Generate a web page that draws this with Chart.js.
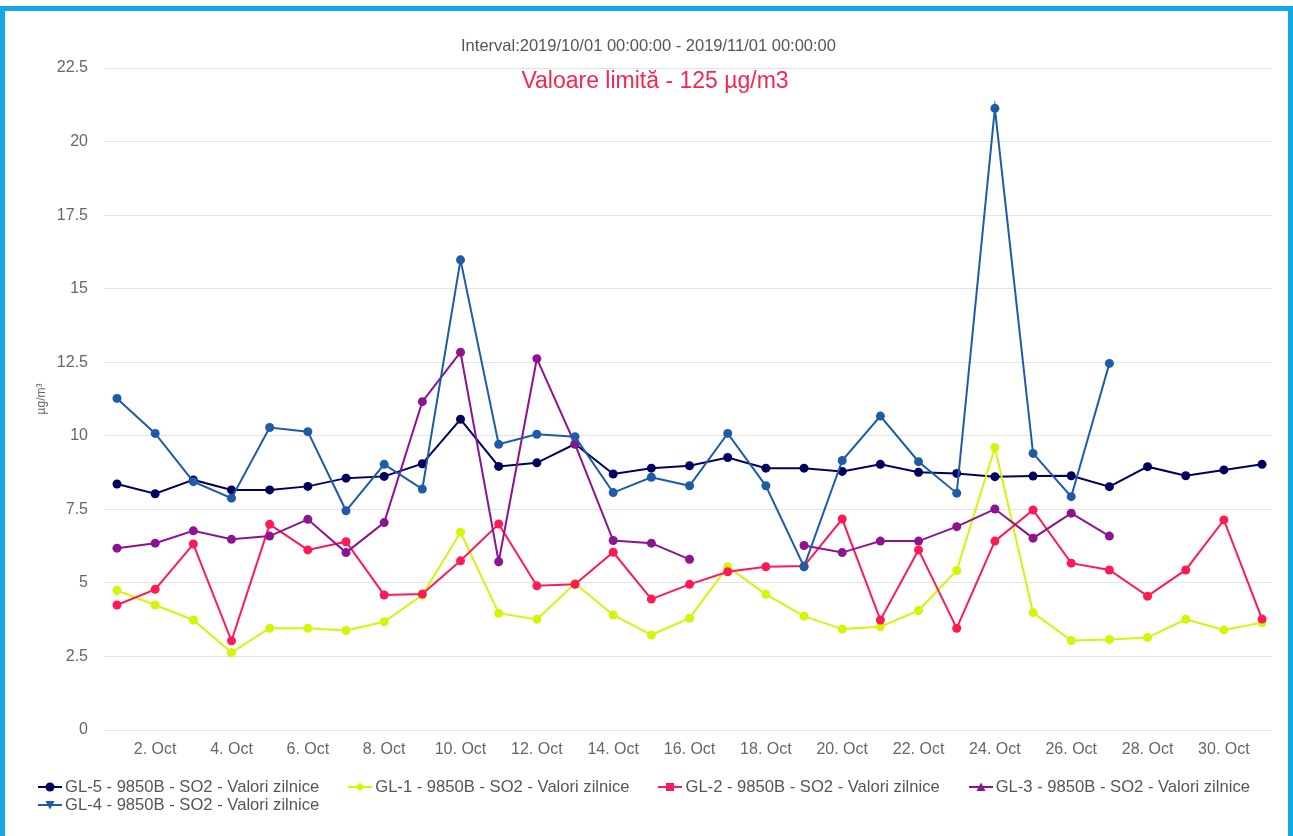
<!DOCTYPE html>
<html>
<head>
<meta charset="utf-8">
<script src="https://cdn.jsdelivr.net/npm/chart.js@4.4.0/dist/chart.umd.min.js"></script>
<style>
  html, body { margin: 0; padding: 0; }
  body { width: 1293px; height: 836px; position: relative; overflow: hidden; background: #fff;
         font-family: "Liberation Sans", Arial, sans-serif; }
  #marco { position: absolute; left: 0; top: 6px; width: 1293px; height: 900px; box-sizing: border-box;
           border: 5px solid #14a9e6; }
  #grafico { position: absolute; left: 0; top: 0; }
  #intervalo { position: absolute; left: 0; width: 1297px; top: 36px; text-align: center;
               font-size: 16.5px; color: #555; }
  #limite { position: absolute; left: 0; width: 1310px; top: 67px; text-align: center;
            font-size: 23px; color: #f7264f; }
  #leyenda { position: absolute; left: 38px; top: 778px; width: 1245px; display: flex; flex-wrap: wrap; }
  .item { display: flex; align-items: center; height: 18px; margin-right: 29px; }
  .item span { margin-left: 3px; font-size: 16.6px; color: #555; white-space: nowrap; }
</style>
</head>
<body>
<div id="marco"></div>
<canvas id="grafico" width="1293" height="836"></canvas>
<div id="intervalo">Interval:2019/10/01 00:00:00 - 2019/11/01 00:00:00</div>
<div id="limite">Valoare limită - 125 µg/m3</div>
<div id="leyenda"></div>
<script>
// Zilele lunii (octombrie 2019)
const zile = [1, 2, 3, 4, 5, 6, 7, 8, 9, 10, 11, 12, 13, 14, 15, 16,
              17, 18, 19, 20, 21, 22, 23, 24, 25, 26, 27, 28, 29, 30, 31];
const zileEticheta = [2, 4, 6, 8, 10, 12, 14, 16, 18, 20, 22, 24, 26, 28, 30];

// Valori SO2 (µg/m³)
const gl5 = [8.36, 8.03, 8.5, 8.16, 8.16, 8.28, 8.56, 8.62, 9.05, 10.56, 8.96, 9.08, 9.72, 8.7, 8.9, 8.98,
             9.26, 8.9, 8.9, 8.79, 9.03, 8.76, 8.72, 8.61, 8.63, 8.64, 8.27, 8.95, 8.64, 8.84, 9.03];
const gl1 = [4.74, 4.25, 3.74, 2.63, 3.46, 3.46, 3.38, 3.68, 4.59, 6.72, 3.97, 3.76, 4.98, 3.91, 3.23, 3.8,
             5.55, 4.61, 3.87, 3.43, 3.51, 4.06, 5.42, 9.6, 3.99, 3.04, 3.08, 3.14, 3.76, 3.4, 3.65];
const gl2 = [4.25, 4.78, 6.32, 3.03, 6.99, 6.12, 6.4, 4.59, 4.62, 5.75, 7.0, 4.9, 4.95, 6.04, 4.45, 4.95,
             5.38, 5.55, 5.57, 7.17, 3.74, 6.12, 3.46, 6.42, 7.48, 5.67, 5.44, 4.55, 5.44, 7.14, 3.77];
const gl3 = [6.18, 6.35, 6.77, 6.48, 6.59, 7.16, 6.03, 7.05, 11.16, 12.84, 5.72, 12.62, 9.72, 6.44, 6.35, 5.8,
             null, null, 6.27, 6.03, 6.42, 6.42, 6.91, 7.51, 6.52, 7.37, 6.59, null, null, null, null];
const gl4 = [11.27, 10.08, 8.44, 7.88, 10.28, 10.14, 7.45, 9.03, 8.19, 15.98, 9.71, 10.05, 9.97, 8.07, 8.59, 8.3,
             10.08, 8.3, 5.55, 9.16, 10.67, 9.12, 8.05, 21.13, 9.4, 7.93, 12.46, null, null, null, null];

const serii = [
  { nume: 'GL-5 - 9850B - SO2 - Valori zilnice', valori: gl5, culoare: '#00005e', simbol: 'cerc' },
  { nume: 'GL-1 - 9850B - SO2 - Valori zilnice', valori: gl1, culoare: '#d4f50a', simbol: 'romb' },
  { nume: 'GL-2 - 9850B - SO2 - Valori zilnice', valori: gl2, culoare: '#ff1a55', simbol: 'patrat' },
  { nume: 'GL-3 - 9850B - SO2 - Valori zilnice', valori: gl3, culoare: '#8e1390', simbol: 'triunghi' },
  { nume: 'GL-4 - 9850B - SO2 - Valori zilnice', valori: gl4, culoare: '#1e5ba8', simbol: 'triunghiJos' }
];

const FONT = '"Liberation Sans", Arial, sans-serif';

// Legenda în HTML (linie + simbol)
function desenSimbol(serie) {
  const c = document.createElement('canvas');
  c.width = 24; c.height = 14;
  const g = c.getContext('2d');
  g.strokeStyle = serie.culoare;
  g.fillStyle = serie.culoare;
  g.lineWidth = 2;
  g.beginPath(); g.moveTo(0, 7); g.lineTo(24, 7); g.stroke();
  g.beginPath();
  if (serie.simbol === 'cerc') g.arc(12, 7, 4.5, 0, Math.PI * 2);
  else if (serie.simbol === 'romb') { g.moveTo(12, 2.5); g.lineTo(16.5, 7); g.lineTo(12, 11.5); g.lineTo(7.5, 7); }
  else if (serie.simbol === 'patrat') g.rect(8, 3, 8, 8);
  else if (serie.simbol === 'triunghi') { g.moveTo(12, 2.5); g.lineTo(16.5, 11); g.lineTo(7.5, 11); }
  else { g.moveTo(7.5, 3); g.lineTo(16.5, 3); g.lineTo(12, 11.5); }
  g.closePath(); g.fill();
  return c;
}

const leyenda = document.getElementById('leyenda');
serii.forEach(s => {
  const item = document.createElement('div');
  item.className = 'item';
  item.appendChild(desenSimbol(s));
  const t = document.createElement('span');
  t.textContent = s.nume;
  item.appendChild(t);
  leyenda.appendChild(item);
});

new Chart(document.getElementById('grafico').getContext('2d'), {
  type: 'line',
  data: {
    datasets: serii.map((s, i) => ({
      label: s.nume,
      data: zile.map((z, k) => ({ x: z, y: s.valori[k] })),
      borderColor: s.culoare,
      backgroundColor: s.culoare,
      borderWidth: 2,
      pointRadius: 4.5,
      pointBorderWidth: 0,
      tension: 0,
      spanGaps: false,
      fill: false,
      order: serii.length - i
    }))
  },
  options: {
    responsive: false,
    animation: false,
    events: [],
    layout: { padding: { left: 30, top: 68, right: 21, bottom: 66 } },
    plugins: { legend: { display: false }, tooltip: { enabled: false } },
    scales: {
      x: {
        type: 'linear',
        min: 0.686,
        max: 31.26,
        grid: { display: false },
        border: { display: false },
        afterBuildTicks: ax => { ax.ticks = zileEticheta.map(v => ({ value: v })); },
        afterFit: s => { s.height = 40; },
        ticks: {
          autoSkip: false,
          maxRotation: 0,
          padding: 2,
          color: '#666',
          font: { size: 16, family: FONT },
          callback: v => v + '. Oct'
        }
      },
      y: {
        min: 0,
        max: 22.5,
        afterFit: s => { s.width = 75; },
        grid: { color: '#e3e3e3', drawTicks: false },
        border: { display: false },
        ticks: {
          stepSize: 2.5,
          padding: 17,
          color: '#666',
          font: { size: 16, family: FONT }
        },
        title: { display: true, text: 'µg/m³', color: '#666', font: { size: 12, family: FONT } }
      }
    }
  }
});
</script>
</body>
</html>
